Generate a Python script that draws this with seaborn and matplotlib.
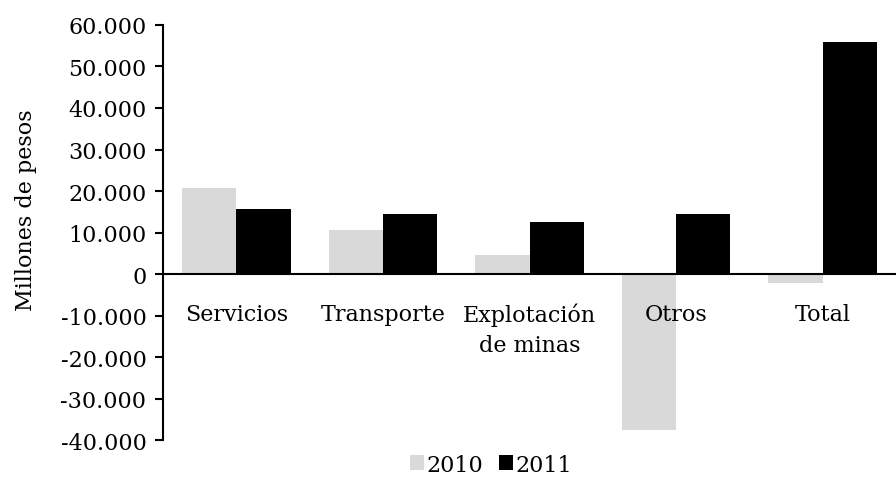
import seaborn as sns
import matplotlib.pyplot as plt
import pandas as pd
from matplotlib.ticker import FuncFormatter

sns.set_theme(style="white")
plt.rcParams['font.family'] = ['DejaVu Serif']
plt.rcParams['text.color'] = 'black'
plt.rcParams['axes.labelcolor'] = 'black'
plt.rcParams['xtick.color'] = 'black'
plt.rcParams['ytick.color'] = 'black'

# Data (millones de pesos)
sectores = ["Servicios", "Transporte", "Explotación\nde minas", "Otros", "Total"]
valores_2010 = [20800, 10600, 4600, -37500, -2200]
valores_2011 = [15600, 14400, 12500, 14400, 56000]
years = ["2010", "2011"]

df = pd.DataFrame({
    "sector": sectores * 2,
    "valor": valores_2010 + valores_2011,
    "year": [years[0]] * len(sectores) + [years[1]] * len(sectores),
})

fs = 16

fig = plt.figure(figsize=(8.96, 4.81), dpi=100)
ax = fig.add_axes([0.182, 0.083, 0.818, 0.863])

sns.barplot(data=df, x="sector", y="valor", hue="year",
            palette=["#d9d9d9", "#000000"], width=0.74, saturation=1,
            edgecolor="none", ax=ax)

ax.set_ylim(-40000, 60000)
ax.set_yticks(range(-40000, 60001, 10000))
ax.yaxis.set_major_formatter(FuncFormatter(
    lambda v, p: f"{int(v):,}".replace(",", ".")))
ax.axhline(0, color="black", lw=1.5, zorder=5)

for s in ["top", "right", "bottom"]:
    ax.spines[s].set_visible(False)
ax.spines["left"].set_color("black")
ax.spines["left"].set_linewidth(1.5)
ax.tick_params(axis="y", left=True, length=6, width=1.5, color="black",
               labelsize=fs, pad=6, labelcolor="black")
ax.tick_params(axis="x", bottom=False)

# x labels below the zero line
ax.set_xticks(range(len(sectores)))
ax.set_xticklabels([])
for i, lab in enumerate(sectores):
    ax.text(i, -6900, lab, ha="center", va="top", fontsize=fs,
            linespacing=1.45, color="black")

ax.set_xlabel("")
ax.set_ylabel("Millones de pesos", fontsize=fs, color="black")
ax.yaxis.set_label_coords(-0.172, 0.557)

handles, labels = ax.get_legend_handles_labels()
ax.get_legend().remove()
leg = fig.legend(handles, labels, loc="center", bbox_to_anchor=(0.548, 0.032),
                 ncol=2, frameon=False, fontsize=fs, handlelength=0.65,
                 handleheight=0.65, handletextpad=0.1, columnspacing=0.7)
for t in leg.get_texts():
    t.set_color("black")

fig.savefig("out.png", dpi=100)
